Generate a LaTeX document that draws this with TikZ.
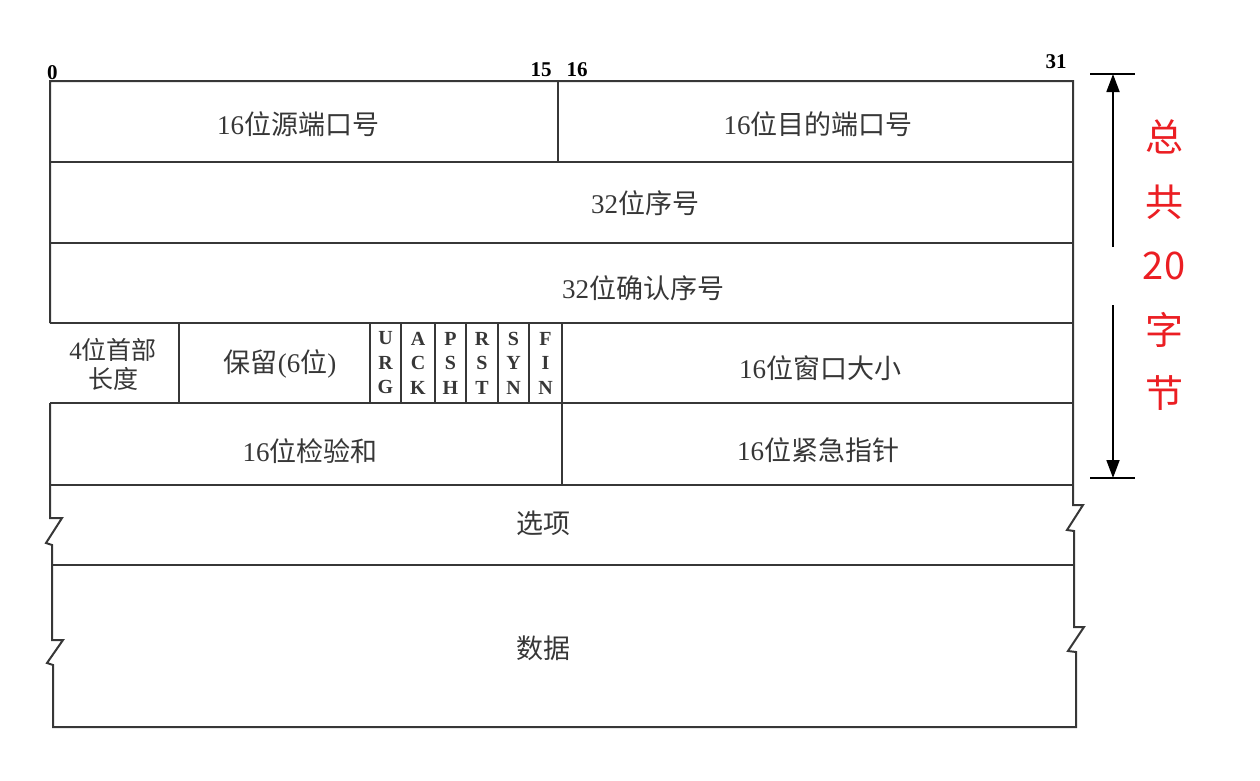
\documentclass[tikz,border=0pt]{standalone}
\usepackage{fontspec}
\setmainfont{Liberation Serif}
\newfontfamily\cjk{Noto Sans CJK SC}
\newcommand\zh[1]{{\cjk #1}}
\usetikzlibrary{arrows.meta}
\definecolor{redtxt}{RGB}{235,30,35}
\definecolor{ink}{RGB}{55,55,55}
\begin{document}
\begin{tikzpicture}[x=1pt,y=-1pt,
  frame/.style={draw=ink,line width=2pt,line join=miter},
  lbl/.style={font=\fontsize{27}{32}\selectfont,inner sep=0pt,text=ink,align=center},
  num/.style={font=\fontsize{21}{22}\selectfont\bfseries,inner sep=0pt},
  flag/.style={font=\fontsize{20}{24.5}\selectfont\bfseries,align=center,inner sep=0pt,text=ink},
  redlbl/.style={text=redtxt,font=\fontsize{38}{40}\selectfont\cjk,inner sep=0pt},
  dim/.style={draw=black,line width=1.8pt}]
\useasboundingbox (0,0) rectangle (1260,780);

% outline
\draw[frame] (50,323) -- (50,81) -- (1073,81) -- (1073,505) -- (1083,505) -- (1067,530) -- (1074,531)
  -- (1074,627) -- (1084,627) -- (1068,651) -- (1076,652) -- (1076,727) -- (53,727)
  -- (53,665) -- (47,663) -- (63,640) -- (52,640) -- (52,545) -- (46,543) -- (62,518) -- (50,518) -- (50,403);

% row separators
\foreach \y/\l/\r in {162/50/1073, 243/50/1073, 323/50/1073, 403/50/1073, 485/50/1073, 565/52/1074}
  \draw[frame] (\l,\y) -- (\r,\y);

% vertical dividers
\draw[frame] (558,81) -- (558,162);
\draw[frame] (179,323) -- (179,403);
\foreach \x in {370,401,435,466,498,529,562}
  \draw[frame,line width=1.5pt] (\x,323) -- (\x,403);
\draw[frame] (562,403) -- (562,485);

% bit numbers
\node[num,anchor=south west] (b0) at (47,80) {0};
\node[num,anchor=south] (b15) at (541,77) {15};
\node[num,anchor=south] (b16) at (577,77) {16};
\node[num,anchor=south] (b31) at (1056,69) {31};

% field labels
\node[lbl] (srcport) at (298,124) {16\zh{位源端口号}};
\node[lbl] (dstport) at (818,124) {16\zh{位目的端口号}};
\node[lbl] (seq) at (645,203) {32\zh{位序号}};
\node[lbl] (ack) at (643,288) {32\zh{位确认序号}};
\node[lbl,font=\fontsize{25}{29}\selectfont] (hlen) at (113,364) {4\zh{位首部}\\\zh{长度}};
\node[lbl] (rsv) at (280,364) {\zh{保留}(6\zh{位})};
\node[flag] (urg) at (385.5,363) {U\\R\\G};
\node[flag] (ackf) at (418,363) {A\\C\\K};
\node[flag] (psh) at (450.5,363) {P\\S\\H};
\node[flag] (rst) at (482,363) {R\\S\\T};
\node[flag] (syn) at (513.5,363) {S\\Y\\N};
\node[flag] (fin) at (545.5,363) {F\\I\\N};
\node[lbl] (win) at (820,368) {16\zh{位窗口大小}};
\node[lbl] (csum) at (310,451) {16\zh{位检验和}};
\node[lbl] (urgp) at (818,450) {16\zh{位紧急指针}};
\node[lbl] (opt) at (543,523) {\zh{选项}};
\node[lbl] (data) at (543,648) {\zh{数据}};

% dimension arrow
\coordinate (ttop) at (1113,74);
\coordinate (tbot) at (1113,478);
\coordinate (gtop) at (1113,247);
\coordinate (gbot) at (1113,305);
\draw[dim] (1090,74) -- (1135,74);
\draw[dim] (1090,478) -- (1135,478);
\draw[dim,-{Triangle[length=18pt,width=13pt]}] (gtop) -- (ttop);
\draw[dim,-{Triangle[length=18pt,width=13pt]}] (gbot) -- (tbot);

% red annotation
\node[redlbl] (z1) at (1164,137) {总};
\node[redlbl] (z2) at (1164,202) {共};
\node[redlbl] (z3) at (1164,266) {20};
\node[redlbl] (z4) at (1164,330) {字};
\node[redlbl] (z5) at (1164,393) {节};
\end{tikzpicture}
\end{document}
